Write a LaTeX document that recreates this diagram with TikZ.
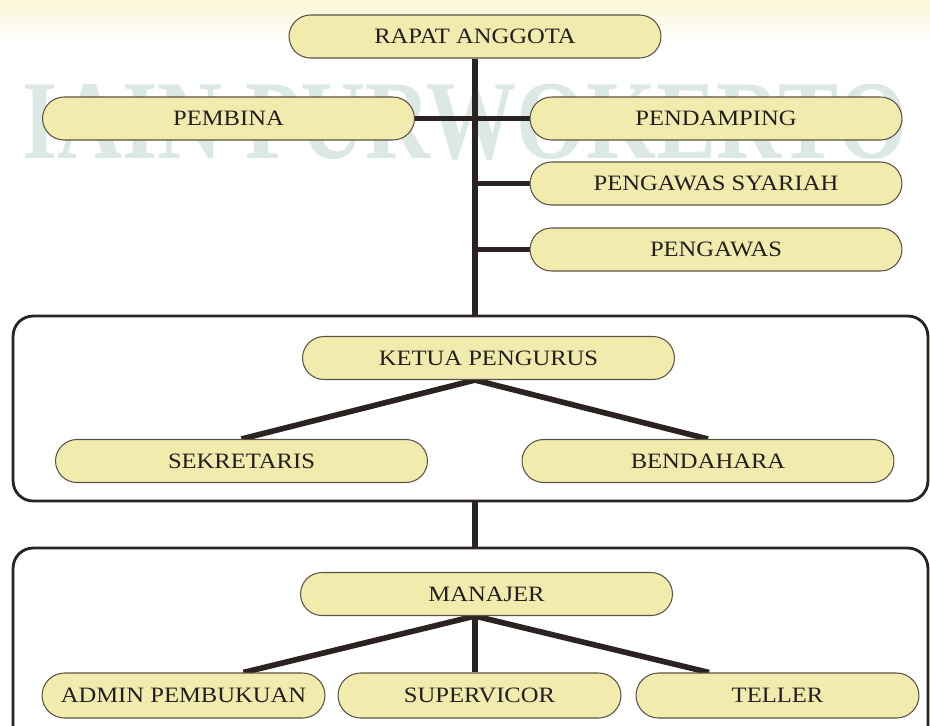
\documentclass[tikz,border=0pt]{standalone}
\usepackage{fontspec}
\setmainfont{Liberation Serif}
\newfontfamily\orgfont{Liberation Serif}[FakeStretch=1.12]
\usepackage{tikz}
\usetikzlibrary{backgrounds}
\definecolor{orgInk}{HTML}{231F20}
\definecolor{orgLine}{HTML}{2B2222}
\definecolor{orgEdge}{HTML}{5A5244}
\definecolor{orgFill}{HTML}{F2EBAE}
\definecolor{orgMark}{HTML}{DCE8E3}
\definecolor{orgGlow}{HTML}{FAF6D8}
\tikzset{
  posbox/.style={draw=orgEdge, fill=orgFill, line width=0.6pt, rounded corners=0.43cm,
                 minimum width=7.44cm, minimum height=0.86cm, inner sep=2pt,
                 font=\orgfont\fontsize{12.5}{14}\selectfont, text=orgInk},
  staffbox/.style={posbox, minimum width=5.66cm, minimum height=0.9cm, rounded corners=0.45cm},
  panel/.style={draw=orgLine, line width=1.6pt, rounded corners=0.4cm, minimum width=18.3cm},
  link/.style={draw=orgLine, line width=3.2pt},
}
\begin{document}
\begin{tikzpicture}[x=0.02cm, y=-0.02cm]
    \clip (0,0) rectangle (930,725);
    \node[posbox] (rapat) at (475,36.5) {RAPAT ANGGOTA};
    \node[posbox] (pembina) at (228.5,118.5) {PEMBINA};
    \node[posbox] (pendamping) at (716,118.5) {PENDAMPING};
    \node[posbox] (syariah) at (716,183.5) {PENGAWAS SYARIAH};
    \node[posbox] (pengawas) at (716,249.5) {PENGAWAS};
    \node[panel, minimum height=3.7cm] (pengurus) at (470.5,408.5) {};
    \node[posbox] (ketua) at (488.5,358) {KETUA PENGURUS};
    \node[posbox] (sekretaris) at (241.5,461) {SEKRETARIS};
    \node[posbox] (bendahara) at (708,461) {BENDAHARA};
    \node[panel, minimum height=4.44cm] (pengelola) at (470.5,659) {};
    \node[posbox] (manajer) at (486.5,594) {MANAJER};
    \node[staffbox] (admin) at (183.5,695.5) {ADMIN PEMBUKUAN};
    \node[staffbox] (supervicor) at (479.5,695.5) {SUPERVICOR};
    \node[staffbox] (teller) at (777.5,695.5) {TELLER};
    \begin{scope}[on background layer]
      \shade[top color=orgGlow, bottom color=white] (0,0) rectangle (930,45);
      \node[anchor=base, text=orgMark, font=\bfseries\fontsize{64}{64}\selectfont, xscale=0.8, inner sep=0pt] (mark) at (465,158) {IAIN PURWOKERTO};
      \draw[link] (rapat.south) -- (rapat.south |- pengurus.north);
      \draw[link] (pembina.east) -- (pendamping.west);
      \draw[link] (rapat.south |- syariah.west) -- (syariah.west);
      \draw[link] (rapat.south |- pengawas.west) -- (pengawas.west);
      \draw[link] (ketua.south -| rapat.south) -- (sekretaris.north);
      \draw[link] (ketua.south -| rapat.south) -- (bendahara.north);
      \draw[link] (rapat.south |- pengurus.south) -- (rapat.south |- pengelola.north);
      \draw[link] (manajer.south -| rapat.south) -- ([xshift=1.2cm]admin.north);
      \draw[link] (manajer.south -| rapat.south) -- (rapat.south |- supervicor.north);
      \draw[link] (manajer.south -| rapat.south) -- ([xshift=-1.37cm]teller.north);
    \end{scope}
  \end{tikzpicture}
\end{document}
